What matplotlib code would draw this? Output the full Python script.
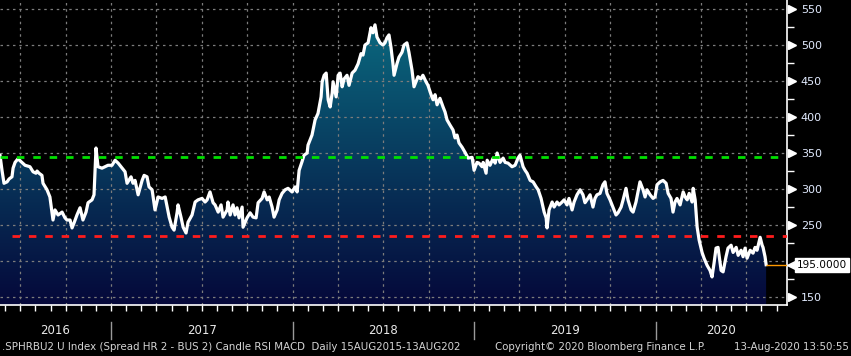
import matplotlib
matplotlib.use("Agg")
import matplotlib.pyplot as plt
import matplotlib.transforms as mtransforms
from matplotlib.colors import LinearSegmentedColormap
import numpy as np

# spread level, x in decimal years
years = [2016.388, 2016.399, 2016.410, 2016.427, 2016.438, 2016.454, 2016.460, 2016.471, 2016.487, 2016.509,
         2016.526, 2016.553, 2016.570, 2016.586, 2016.592, 2016.603, 2016.619, 2016.625, 2016.647, 2016.663,
         2016.674, 2016.680, 2016.691, 2016.708, 2016.730, 2016.746, 2016.757, 2016.774, 2016.785, 2016.796,
         2016.812, 2016.829, 2016.845, 2016.862, 2016.873, 2016.895, 2016.906, 2016.917, 2016.928, 2016.950,
         2016.967, 2016.983, 2017.005, 2017.022, 2017.039, 2017.061, 2017.077, 2017.088, 2017.110, 2017.121,
         2017.132, 2017.149, 2017.171, 2017.182, 2017.198, 2017.209, 2017.226, 2017.242, 2017.259, 2017.281,
         2017.298, 2017.309, 2017.320, 2017.336, 2017.347, 2017.364, 2017.369, 2017.386, 2017.397, 2017.413,
         2017.424, 2017.446, 2017.463, 2017.479, 2017.501, 2017.518, 2017.529, 2017.545, 2017.562, 2017.573,
         2017.590, 2017.606, 2017.617, 2017.639, 2017.644, 2017.656, 2017.672, 2017.683, 2017.694, 2017.705,
         2017.722, 2017.727, 2017.749, 2017.766, 2017.782, 2017.799, 2017.810, 2017.832, 2017.843, 2017.860,
         2017.871, 2017.887, 2017.898, 2017.915, 2017.926, 2017.942, 2017.959, 2017.975, 2017.997, 2018.014,
         2018.025, 2018.036, 2018.052, 2018.063, 2018.080, 2018.085, 2018.107, 2018.124, 2018.140, 2018.157,
         2018.163, 2018.174, 2018.185, 2018.196, 2018.207, 2018.218, 2018.223, 2018.240, 2018.251, 2018.262,
         2018.273, 2018.284, 2018.300, 2018.311, 2018.328, 2018.344, 2018.361, 2018.377, 2018.388, 2018.399,
         2018.416, 2018.432, 2018.443, 2018.454, 2018.465, 2018.482, 2018.498, 2018.509, 2018.520, 2018.531,
         2018.542, 2018.553, 2018.559, 2018.575, 2018.586, 2018.603, 2018.614, 2018.630, 2018.641, 2018.658,
         2018.669, 2018.680, 2018.691, 2018.707, 2018.718, 2018.735, 2018.746, 2018.763, 2018.774, 2018.785,
         2018.796, 2018.812, 2018.829, 2018.840, 2018.851, 2018.867, 2018.884, 2018.895, 2018.906, 2018.917,
         2018.934, 2018.950, 2018.967, 2018.989, 2019.000, 2019.016, 2019.027, 2019.044, 2019.050, 2019.066,
         2019.072, 2019.088, 2019.105, 2019.116, 2019.127, 2019.143, 2019.160, 2019.171, 2019.187, 2019.209,
         2019.226, 2019.242, 2019.253, 2019.270, 2019.281, 2019.292, 2019.309, 2019.325, 2019.342, 2019.353,
         2019.369, 2019.380, 2019.386, 2019.397, 2019.402, 2019.413, 2019.430, 2019.441, 2019.457, 2019.468,
         2019.485, 2019.496, 2019.512, 2019.523, 2019.540, 2019.551, 2019.567, 2019.584, 2019.600, 2019.611,
         2019.622, 2019.639, 2019.655, 2019.666, 2019.677, 2019.694, 2019.710, 2019.721, 2019.732, 2019.749,
         2019.765, 2019.782, 2019.793, 2019.810, 2019.821, 2019.837, 2019.848, 2019.865, 2019.876, 2019.892,
         2019.903, 2019.914, 2019.931, 2019.942, 2019.953, 2019.970, 2019.986, 2019.997, 2020.008, 2020.025,
         2020.041, 2020.058, 2020.069, 2020.085, 2020.096, 2020.107, 2020.118, 2020.135, 2020.152, 2020.163,
         2020.174, 2020.185, 2020.201, 2020.207, 2020.218, 2020.229, 2020.240, 2020.256, 2020.267, 2020.284,
         2020.300, 2020.311, 2020.322, 2020.333, 2020.344, 2020.361, 2020.372, 2020.388, 2020.399, 2020.416,
         2020.427, 2020.444, 2020.455, 2020.471, 2020.482, 2020.493, 2020.504, 2020.521, 2020.537, 2020.548,
         2020.559, 2020.576, 2020.587, 2020.592, 2020.603, 2020.609]
spread = [347, 326, 308, 310, 314, 317, 329, 337, 342, 337,
          333, 331, 324, 322, 325, 322, 319, 308, 299, 289,
          268, 257, 271, 264, 268, 260, 257, 257, 246, 253,
          264, 274, 257, 268, 281, 285, 292, 357, 331, 329,
          331, 333, 333, 340, 336, 329, 324, 308, 317, 308,
          312, 292, 312, 319, 317, 303, 299, 271, 289, 287,
          289, 275, 261, 247, 243, 268, 278, 260, 247, 239,
          254, 264, 282, 285, 287, 282, 285, 296, 281, 278,
          268, 278, 261, 271, 282, 264, 278, 264, 274, 260,
          275, 247, 260, 267, 261, 260, 281, 287, 296, 285,
          289, 275, 261, 271, 285, 294, 299, 301, 296, 303,
          296, 326, 338, 347, 350, 361, 375, 396, 405, 428,
          449, 458, 461, 424, 414, 433, 449, 428, 458, 461,
          442, 453, 458, 444, 461, 465, 474, 488, 486, 500,
          503, 524, 517, 528, 511, 503, 500, 503, 510, 514,
          497, 474, 458, 474, 483, 490, 500, 503, 490, 465,
          442, 449, 456, 453, 458, 449, 444, 431, 424, 431,
          417, 426, 414, 407, 396, 389, 382, 371, 375, 364,
          358, 351, 343, 344, 326, 337, 336, 331, 337, 322,
          340, 333, 343, 336, 350, 337, 343, 337, 336, 331,
          333, 343, 347, 331, 326, 322, 312, 310, 303, 299,
          287, 275, 268, 260, 246, 271, 282, 275, 282, 278,
          282, 285, 278, 287, 271, 282, 292, 299, 292, 281,
          285, 292, 275, 287, 292, 294, 306, 310, 294, 285,
          275, 264, 267, 275, 285, 301, 285, 271, 268, 282,
          296, 310, 299, 289, 299, 292, 287, 289, 306, 310,
          312, 308, 294, 287, 268, 282, 287, 278, 296, 289,
          285, 294, 282, 301, 285, 247, 229, 212, 204, 194,
          187, 178, 197, 218, 219, 187, 185, 206, 218, 222,
          212, 219, 208, 215, 206, 218, 204, 215, 211, 219,
          215, 233, 222, 219, 206, 195]

upper_level = 345
lower_level = 235
lower_start = 2016.454
last_value = 195.0
y_ticks = [150, 200, 250, 300, 350, 400, 450, 500, 550]
year_labels = [2016, 2017, 2018, 2019, 2020]
footer_left = '.SPHRBU2 U Index (Spread HR 2 - BUS 2) Candle RSI MACD  Daily 15AUG2015-13AUG202'
footer_mid = 'Copyright\u00a9 2020 Bloomberg Finance L.P.'
footer_right = '13-Aug-2020 13:50:55'

x_start, x_end = 2016.388, 2020.724
y_lo, y_hi = 139, 562.5

fig = plt.figure(figsize=(8.51, 3.56), dpi=100, facecolor='black')
ax = fig.add_axes([0, 51 / 356, 787 / 851, 305 / 356])
ax.set_facecolor('black')

# gradient under the curve
cmap = LinearSegmentedColormap.from_list('fill', ['#05083a', '#0b7084'])
grad = np.linspace(0, 1, 256).reshape(-1, 1)
im = ax.imshow(grad, cmap=cmap, aspect='auto', origin='lower',
               extent=[x_start, x_end, y_lo, y_hi], zorder=1)
poly = ax.fill_between(years, spread, y_lo, color='none', lw=0)
im.set_clip_path(poly.get_paths()[0], transform=ax.transData)

ax.set_xlim(x_start, x_end)
ax.set_ylim(y_lo, y_hi)

# dotted grid
for v in y_ticks:
    ax.axhline(v, color='#7c7c7c', lw=0.9, ls=(0, (2, 3)), zorder=2)
quarters = [y + q / 4 for y in range(2016, 2021) for q in range(4)]
quarters = [q for q in quarters if x_start < q < x_end]
for q in quarters:
    ax.axvline(q, color='#7c7c7c', lw=0.9, ls=(0, (2, 3)), zorder=2)

ax.plot(years, spread, color='white', lw=2.3, zorder=4, solid_joinstyle='round')

ax.hlines(upper_level, x_start, x_end, color='#00e000', lw=2, linestyles=(0, (2.7, 3.2)), zorder=5)
ax.hlines(lower_level, lower_start, x_end, color='#ff1c1c', lw=2, linestyles=(0, (2.7, 3.2)), zorder=5)
ax.hlines(last_value, years[-1], x_end, color='#ff9900', lw=1, zorder=5)

for s in ['left', 'top']:
    ax.spines[s].set_visible(False)
for s in ['bottom', 'right']:
    ax.spines[s].set_color('white')
    ax.spines[s].set_linewidth(1.2)

months = [y + m / 12 for y in range(2016, 2021) for m in range(12)]
months = [m for m in months if x_start < m < x_end]
ax.set_xticks(months)
ax.tick_params(axis='x', colors='white', length=4, width=1, labelbottom=False)

# the last-value tag covers the tick nearest to it
shown_ticks = [v for v in y_ticks if abs(v - last_value) > 20]
ax.yaxis.tick_right()
ax.set_yticks(shown_ticks)
ax.set_yticks([v + 25 for v in y_ticks[:-1]], minor=True)
ax.tick_params(axis='y', which='major', length=0, pad=10, labelcolor='#e2ebff', labelsize=8)
ax.tick_params(axis='y', which='minor', length=5, width=1, color='white')

trans = mtransforms.blended_transform_factory(ax.transAxes, ax.transData)
ax.plot([1.006] * len(shown_ticks), shown_ticks, marker='>', ms=5.5, color='white', ls='none',
        transform=trans, clip_on=False, zorder=6)

# last value tag
ax.plot([1.008], [last_value], marker='<', ms=8.5, color='white', ls='none',
        transform=trans, clip_on=False, zorder=6)
ax.text(1.0127, last_value, f'{last_value:.4f}', transform=trans, ha='left', va='center',
        fontsize=7.6, color='black', zorder=7,
        bbox=dict(boxstyle='square,pad=0.2', fc='white', ec='white'))

# year labels and separators below the axis
trans_x = mtransforms.blended_transform_factory(ax.transData, ax.transAxes)
for yr in year_labels:
    lo = max(yr, x_start)
    hi = min(yr + 1, x_end)
    ax.text((lo + hi) / 2, -0.082, str(yr), transform=trans_x, ha='center', va='center',
            fontsize=8.5, color='#e8e8e8')
    if yr > x_start:
        ax.plot([yr, yr], [-0.056, -0.111], color='#9a9a9a', lw=1, transform=trans_x, clip_on=False)

fig.text(2 / 851, 0.025, footer_left, ha='left', va='center', fontsize=7.4, color='#d4d4d4')
fig.text(495 / 851, 0.025, footer_mid, ha='left', va='center', fontsize=7.4, color='#d4d4d4')
fig.text(849 / 851, 0.025, footer_right, ha='right', va='center', fontsize=7.4, color='#d4d4d4')

fig.savefig('out.png', dpi=100, facecolor='black')
